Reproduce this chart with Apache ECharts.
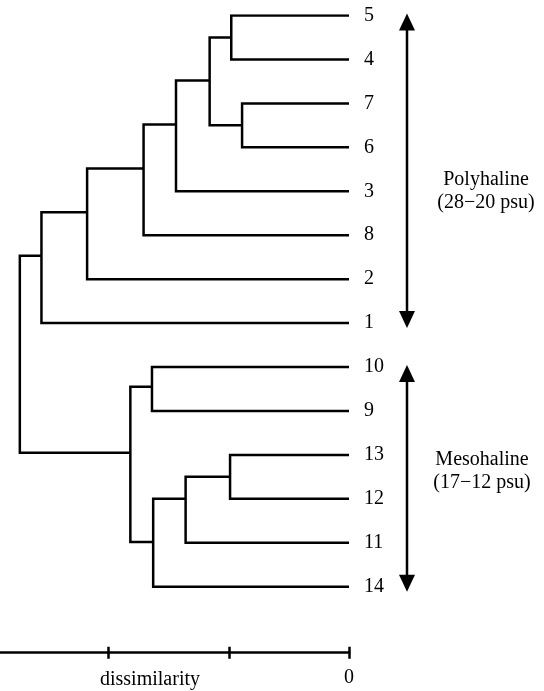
<!DOCTYPE html>
<html>
<head>
<meta charset="utf-8">
<script src="https://cdn.jsdelivr.net/npm/echarts@6/dist/echarts.min.js"></script>
<style>
    html, body { margin: 0; padding: 0; background: #fff; }
    #chart { width: 544px; height: 691px; }
</style>
</head>
<body>
<div id="chart"></div>
<script>
    // 叶子（自上而下）
    var leaves = ['5', '4', '7', '6', '3', '8', '2', '1', '10', '9', '13', '12', '11', '14'];

    // 合并：节点 0-13 为叶子，14 起为合并节点（按此顺序）
    var mergeLeft = [0, 2, 14, 16, 17, 18, 19, 8, 10, 22, 23, 21, 20];
    var mergeRight = [1, 3, 15, 4, 5, 6, 7, 9, 11, 12, 13, 24, 25];
    var mergeHeight = [0.98, 0.89, 1.16, 1.44, 1.71, 2.18, 2.56, 1.64, 0.99, 1.36, 1.63, 1.82, 2.74];
    // 每个合并节点引出横线所在的行
    var mergeRow = [0.5, 2.5, 1.48, 2.48, 3.48, 4.48, 5.47, 8.45, 10.5, 11.0, 11.98, 9.95, 7.7];

    // 分组箭头（首行、末行）及文字
    var groupFirst = [0, 8];
    var groupLast = [7, 13];
    var groupNames = ['Polyhaline\n(28\u221220 psu)', 'Mesohaline\n(17\u221212 psu)'];

    var serif = '"Liberation Serif", "Times New Roman", serif';

    function nodeHeight(id) {
        return id < leaves.length ? 0 : mergeHeight[id - leaves.length];
    }

    function nodeRow(id) {
        return id < leaves.length ? id : mergeRow[id - leaves.length];
    }

    var series = [];
    for (var i = 0; i < mergeHeight.length; i++) {
        var a = mergeLeft[i], b = mergeRight[i], h = mergeHeight[i];
        series.push({
            type: 'line',
            silent: true,
            symbol: 'none',
            lineStyle: { color: '#000', width: 2.5, join: 'miter', cap: 'butt' },
            data: [
                [nodeHeight(a), nodeRow(a)],
                [h, nodeRow(a)],
                [h, nodeRow(b)],
                [nodeHeight(b), nodeRow(b)]
            ]
        });
    }

    var chart = echarts.init(document.getElementById('chart'), null, { renderer: 'canvas' });

    chart.setOption({
        animation: false,
        backgroundColor: '#fff',
        grid: {
            left: -3,
            right: 195,
            top: 15.5,
            bottom: 104.3,
            containLabel: false,
            outerBoundsMode: 'none'
        },
        xAxis: [{
            type: 'value',
            inverse: true,
            min: 0,
            max: 2.93,
            interval: 1,
            position: 'bottom',
            offset: 66,
            splitLine: { show: false },
            axisLine: { show: true, onZero: false, lineStyle: { color: '#000', width: 2.5 } },
            axisTick: { show: true, inside: false, length: 6, lineStyle: { color: '#000', width: 2.5 } },
            axisLabel: {
                margin: 15,
                color: '#000',
                fontSize: 20,
                fontFamily: serif,
                formatter: function (v) { return v === 0 ? '0' : ''; }
            }
        }, {
            // 刻度上半截
            type: 'value',
            inverse: true,
            min: 0,
            max: 2.93,
            interval: 1,
            position: 'top',
            offset: -637.2,
            splitLine: { show: false },
            axisLine: { show: false, onZero: false },
            axisTick: { show: true, inside: false, length: 6, lineStyle: { color: '#000', width: 2.5 } },
            axisLabel: { show: false }
        }],
        yAxis: {
            type: 'value',
            inverse: true,
            min: 0,
            max: 13,
            interval: 1,
            position: 'right',
            axisLine: { show: false, onZero: false },
            axisTick: { show: false },
            splitLine: { show: false },
            axisLabel: {
                margin: 15,
                color: '#000',
                fontSize: 20,
                fontFamily: serif,
                formatter: function (v) { return leaves[v] || ''; }
            }
        },
        series: series
    });

    // 双向箭头 + 分组文字
    var graphic = [];
    var arrowX = 407, headLen = 17, headHalf = 8;
    var textX = [486, 482], textY = [191, 471];
    for (var g = 0; g < groupNames.length; g++) {
        var yTop = chart.convertToPixel({ yAxisIndex: 0 }, groupFirst[g]) - 2;
        var yBot = chart.convertToPixel({ yAxisIndex: 0 }, groupLast[g]) + 5;
        graphic.push({
            type: 'polyline',
            silent: true,
            shape: { points: [[arrowX, yTop + headLen - 2], [arrowX, yBot - headLen + 2]] },
            style: { stroke: '#000', lineWidth: 2.5, fill: null }
        }, {
            type: 'polygon',
            silent: true,
            shape: { points: [[arrowX, yTop], [arrowX - headHalf, yTop + headLen], [arrowX + headHalf, yTop + headLen]] },
            style: { fill: '#000' }
        }, {
            type: 'polygon',
            silent: true,
            shape: { points: [[arrowX, yBot], [arrowX - headHalf, yBot - headLen], [arrowX + headHalf, yBot - headLen]] },
            style: { fill: '#000' }
        }, {
            type: 'text',
            silent: true,
            x: textX[g],
            y: textY[g],
            style: {
                text: groupNames[g],
                fill: '#000',
                font: '20px ' + serif,
                lineHeight: 23,
                align: 'center',
                verticalAlign: 'middle'
            }
        });
    }
    graphic.push({
        type: 'text',
        silent: true,
        x: 150,
        y: 680,
        style: {
            text: 'dissimilarity',
            fill: '#000',
            font: '20px ' + serif,
            align: 'center',
            verticalAlign: 'middle'
        }
    });
    chart.setOption({ graphic: graphic });
</script>
</body>
</html>
